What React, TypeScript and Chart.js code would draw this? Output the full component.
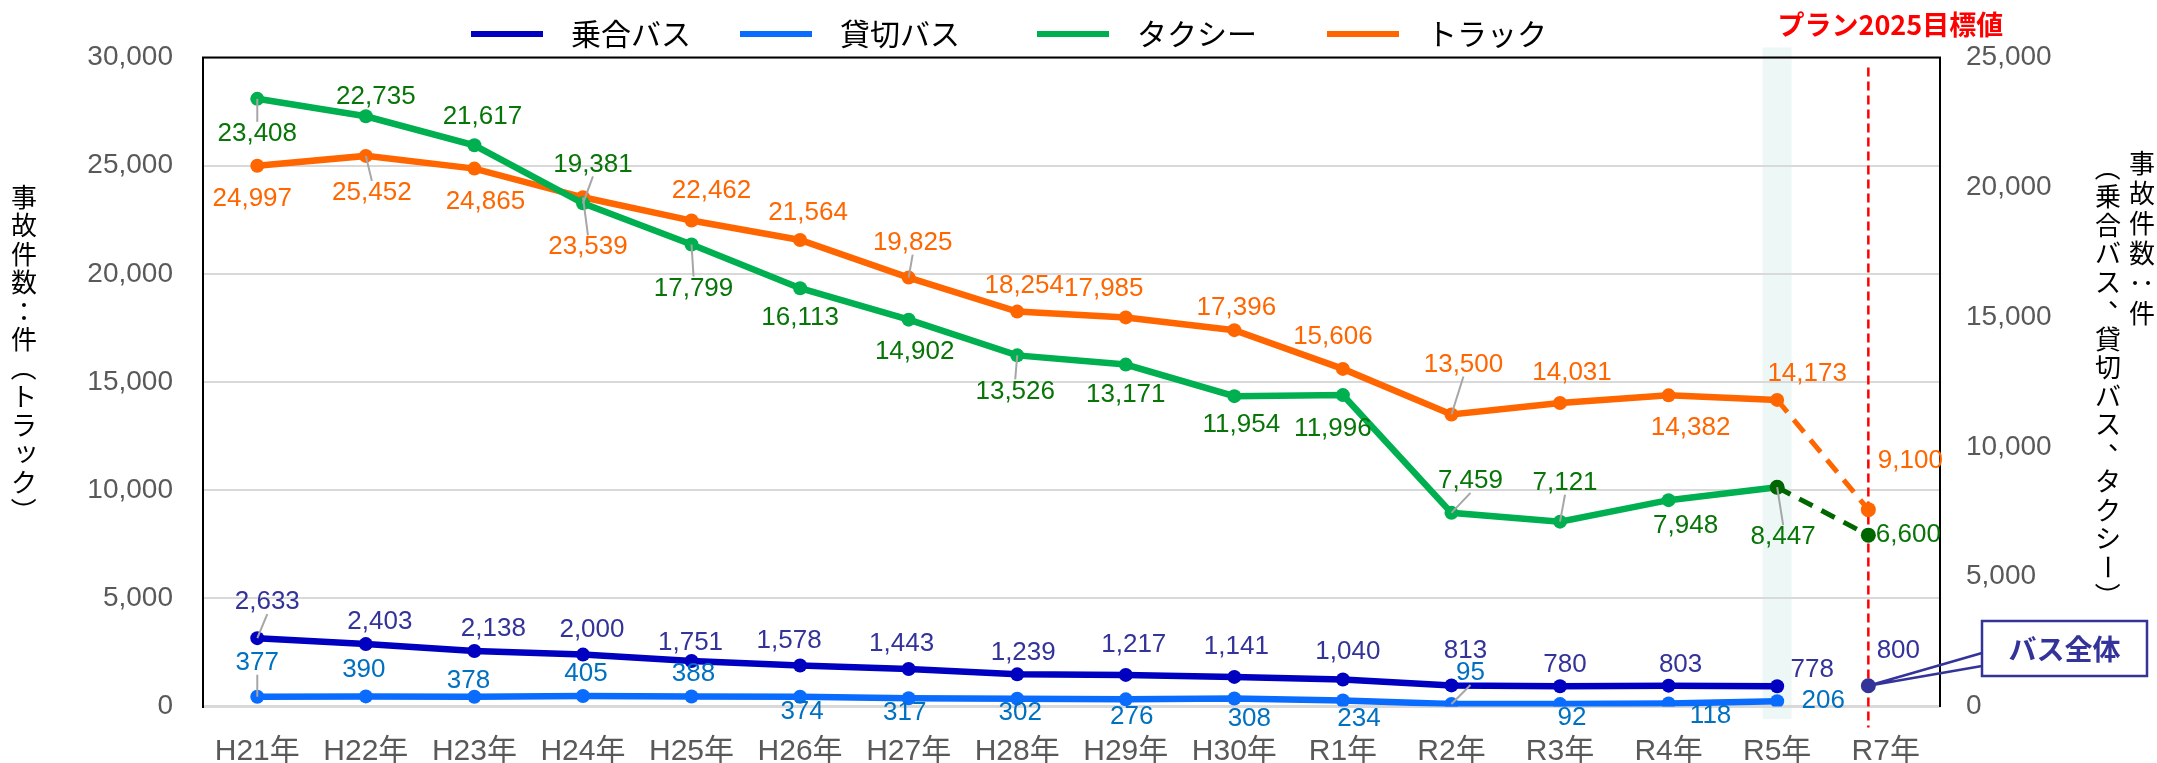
import React, { useEffect, useRef } from 'react';
import { Chart, registerables } from 'chart.js';

Chart.register(...registerables);

// ---------------- data ----------------
const categories = ['H21年', 'H22年', 'H23年', 'H24年', 'H25年', 'H26年', 'H27年', 'H28年', 'H29年', 'H30年', 'R1年', 'R2年', 'R3年', 'R4年', 'R5年', 'R7年'];
const seriesNames = ['乗合バス', '貸切バス', 'タクシー', 'トラック'];
const routeBus = [2633, 2403, 2138, 2000, 1751, 1578, 1443, 1239, 1217, 1141, 1040, 813, 780, 803, 778];
const charterBus = [377, 390, 378, 405, 388, 374, 317, 302, 276, 308, 234, 95, 92, 118, 206];
const taxi = [23408, 22735, 21617, 19381, 17799, 16113, 14902, 13526, 13171, 11954, 11996, 7459, 7121, 7948, 8447];
const truck = [24997, 25452, 24865, 23539, 22462, 21564, 19825, 18254, 17985, 17396, 15606, 13500, 14031, 14382, 14173];
const truckTarget = 9100;
const taxiTarget = 6600;
const busTarget = 800;
const targetPos = 14.84; // category-axis position of the plan-2025 target marks
const targetTitle = 'プラン2025目標値';
const busTargetName = 'バス全体';
const leftTicks = [0, 5000, 10000, 15000, 20000, 25000, 30000];
const rightTicks = [0, 5000, 10000, 15000, 20000, 25000];
const leftTitle = '事故件数：件（トラック）';
const rightTitleA = '事故件数：件';
const rightTitleB = '（乗合バス、貸切バス、タクシー）';

// ---------------- styles ----------------
const FONT_LATIN = "'Liberation Sans', Arial, 'Noto Sans CJK JP', sans-serif";
const FONT_JP = "'Noto Sans CJK JP', 'Noto Sans', sans-serif";
const C_ROUTE = '#0000C0';
const C_CHARTER = '#0A6CFF';
const C_TAXI = '#00B050';
const C_TRUCK = '#FF6600';
const C_TAXI_DARK = '#006600';
const C_BUS_TARGET = '#333399';

// label offsets [dx, dy, leader]
const routeOffsets = [[10, -36, 1], [14, -22, 0], [19, -22, 0], [9, -25, 0], [-1, -18, 0], [-11, -25, 0], [-7, -25, 0], [6, -22, 0], [8, -30, 0], [2, -30, 0], [5, -28, 0], [14, -35, 0], [5, -21, 0], [12, -21, 0], [35, -16, 0]];
const charterOffsets = [[0, -34, 1], [-2, -27, 0], [-6, -16, 0], [3, -22, 0], [2, -23, 0], [2, 15, 0], [-4, 15, 0], [3, 14, 0], [6, 17, 0], [15, 20, 0], [16, 18, 0], [19, -31, 1], [12, 14, 0], [42, 12, 0], [46, 0, 0]];
const taxiOffsets = [[0, 35, 1], [10, -19, 0], [8, -28, 0], [10, -39, 1], [2, 44, 1], [0, 30, 0], [6, 32, 0], [-2, 36, 1], [0, 30, 0], [7, 29, 0], [-10, 34, 0], [19, -32, 1], [5, -39, 1], [17, 26, 0], [6, 50, 1]];
const truckOffsets = [[-5, 33, 0], [6, 37, 1], [11, 33, 0], [5, 50, 1], [20, -30, 0], [8, -27, 0], [4, -35, 1], [7, -26, 0], [-22, -29, 0], [2, -22, 0], [-10, -32, 0], [12, -50, 1], [12, -30, 0], [22, 32, 0], [30, -26, 0]];

const fmt = (v: any) => Number(v).toLocaleString('en-US');
const pts = (arr: number[]) => arr.map((v, i) => ({ x: i, y: v }));

function drawVertical(ctx: CanvasRenderingContext2D, text: string, x: number, y0: number, pitch: number, size: number, rotateSet: string) {
  let y = y0;
  for (const ch of Array.from(text)) {
    ctx.save();
    ctx.translate(x, y);
    if (ch === '、') ctx.translate(size * 0.5, -size * 0.5);
    if (ch === 'ッ') ctx.translate(size * 0.08, -size * 0.1);
    if (rotateSet.includes(ch)) ctx.rotate(Math.PI / 2);
    ctx.fillText(ch, 0, 0);
    ctx.restore();
    y += pitch;
  }
}

const decorPlugin = {
  id: 'decor',
  beforeDraw(chart: any) {
    const { ctx, chartArea } = chart;
    const xs = chart.scales.x;
    const xc = xs.getPixelForValue(truck.length - 1);
    ctx.save();
    ctx.fillStyle = '#EDF7F5';
    ctx.fillRect(xc - 14.5, chartArea.top - 10, 29, chartArea.bottom - chartArea.top + 22.5);
    ctx.restore();
  },
  beforeDatasetsDraw(chart: any) {
    const { ctx, chartArea } = chart;
    const xs = chart.scales.x;
    ctx.save();
    ctx.strokeStyle = '#000';
    ctx.lineWidth = 2;
    ctx.beginPath();
    ctx.moveTo(chartArea.left - 1, chartArea.top);
    ctx.lineTo(chartArea.right + 1, chartArea.top);
    ctx.stroke();
    const rx = xs.getPixelForValue(targetPos);
    ctx.strokeStyle = '#FF0000';
    ctx.lineWidth = 2.5;
    ctx.setLineDash([9, 5]);
    ctx.beginPath();
    ctx.moveTo(rx, chartArea.top + 10);
    ctx.lineTo(rx, chartArea.bottom + 21);
    ctx.stroke();
    ctx.restore();
  },
  afterDatasetsDraw(chart: any) {
    const { ctx } = chart;
    ctx.save();
    ctx.font = `26px ${FONT_LATIN}`;
    ctx.textAlign = 'center';
    ctx.textBaseline = 'middle';
    chart.data.datasets.forEach((ds: any, di: number) => {
      const offs = ds.labelOffsets;
      if (!offs) return;
      const meta = chart.getDatasetMeta(di);
      meta.data.forEach((el: any, i: number) => {
        const o = offs[i];
        if (!o) return;
        const lx = el.x + o[0];
        const ly = el.y + o[1];
        if (o[2]) {
          ctx.strokeStyle = '#A6A6A6';
          ctx.lineWidth = 2;
          ctx.beginPath();
          ctx.moveTo(el.x, el.y);
          ctx.lineTo(lx, ly + (o[1] > 0 ? -12 : 12));
          ctx.stroke();
        }
        ctx.fillStyle = ds.labelColor;
        ctx.fillText(fmt(ds.data[i].y), lx, ly);
      });
    });
    ctx.restore();
  },
  afterDraw(chart: any) {
    const { ctx, chartArea } = chart;
    const xs = chart.scales.x;
    ctx.save();
    // legend
    const legendStarts = [471, 740, 1037, 1327];
    const legendSets = [3, 4, 5, 6];
    ctx.textBaseline = 'middle';
    ctx.textAlign = 'left';
    ctx.font = `30px ${FONT_JP}`;
    legendSets.forEach((di, k) => {
      const ds = chart.data.datasets[di];
      const x0 = legendStarts[k];
      ctx.strokeStyle = ds.borderColor;
      ctx.lineWidth = 6;
      ctx.beginPath();
      ctx.moveTo(x0, 34);
      ctx.lineTo(x0 + 72, 34);
      ctx.stroke();
      ctx.fillStyle = '#000';
      ctx.fillText(ds.label, x0 + 100, 34);
    });

    // axis titles (vertical writing)
    ctx.textAlign = 'center';
    ctx.fillStyle = '#000';
    ctx.font = `26px ${FONT_JP}`;
    drawVertical(ctx, leftTitle, 24, 197, 28.5, 26, '（）ー');
    drawVertical(ctx, rightTitleA, 2142, 163, 30, 26, '（）ー：');
    drawVertical(ctx, rightTitleB, 2108, 168, 28.5, 26, '（）ー：');

    // target heading
    const rx = xs.getPixelForValue(targetPos);
    ctx.fillStyle = '#FF0000';
    ctx.font = `bold 27px ${FONT_JP}`;
    ctx.fillText(targetTitle, rx + 22, 25);

    // callout for bus target
    const meta = chart.getDatasetMeta(0);
    const p = meta.data[0];
    const bx = chartArea.right + 42;
    const by = 621;
    const bw = 165;
    const bh = 55;
    ctx.strokeStyle = C_BUS_TARGET;
    ctx.lineWidth = 2.5;
    ctx.beginPath();
    ctx.moveTo(bx, 653);
    ctx.lineTo(p.x, p.y);
    ctx.lineTo(bx, 666);
    ctx.stroke();
    ctx.fillStyle = '#fff';
    ctx.fillRect(bx, by, bw, bh);
    ctx.strokeRect(bx, by, bw, bh);
    ctx.fillStyle = C_BUS_TARGET;
    ctx.font = `bold 28px ${FONT_JP}`;
    ctx.fillText(busTargetName, bx + bw / 2, by + bh / 2 + 1);
    ctx.restore();
  },
};

export default function App() {
  const ref = useRef<HTMLCanvasElement>(null);
  useEffect(() => {
    document.body.style.margin = '0';
    const last = truck.length - 1;
    const chart = new Chart(ref.current as HTMLCanvasElement, {
      type: 'line',
      data: {
        datasets: [
          {
            label: busTargetName, data: [{ x: targetPos, y: busTarget }], yAxisID: 'y2', showLine: false,
            borderColor: C_BUS_TARGET, backgroundColor: C_BUS_TARGET, pointRadius: 7.5, pointBorderWidth: 0,
            labelOffsets: [[30, -35, 0]], labelColor: C_BUS_TARGET,
          } as any,
          {
            label: 'タクシー目標', data: [{ x: last, y: taxi[last] }, { x: targetPos, y: taxiTarget }], yAxisID: 'y2',
            borderColor: C_TAXI_DARK, backgroundColor: C_TAXI_DARK, borderWidth: 5, borderDash: [15, 10], pointRadius: 7.5, pointBorderWidth: 0,
            labelOffsets: [null, [40, 0, 0]], labelColor: '#087508',
          } as any,
          {
            label: 'トラック目標', data: [{ x: last, y: truck[last] }, { x: targetPos, y: truckTarget }], yAxisID: 'y',
            borderColor: C_TRUCK, backgroundColor: C_TRUCK, borderWidth: 5, borderDash: [16, 10], pointRadius: [0, 7.5], pointBorderWidth: 0,
            labelOffsets: [null, [42, -49, 0]], labelColor: C_TRUCK,
          } as any,
          {
            label: seriesNames[0], data: pts(routeBus), yAxisID: 'y2', borderColor: C_ROUTE, backgroundColor: C_ROUTE,
            borderWidth: 6.5, pointRadius: 7, pointBorderWidth: 0, labelOffsets: routeOffsets, labelColor: '#333399',
          } as any,
          {
            label: seriesNames[1], data: pts(charterBus), yAxisID: 'y2', borderColor: C_CHARTER, backgroundColor: C_CHARTER,
            borderWidth: 6.5, pointRadius: 7, pointBorderWidth: 0, labelOffsets: charterOffsets, labelColor: '#0070C0',
          } as any,
          {
            label: seriesNames[2], data: pts(taxi), yAxisID: 'y2', borderColor: C_TAXI, backgroundColor: C_TAXI,
            borderWidth: 6.5, pointRadius: 7, pointBorderWidth: 0, labelOffsets: taxiOffsets, labelColor: '#087508',
          } as any,
          {
            label: seriesNames[3], data: pts(truck), yAxisID: 'y', borderColor: C_TRUCK, backgroundColor: C_TRUCK,
            borderWidth: 6.5, pointRadius: 7, pointBorderWidth: 0, labelOffsets: truckOffsets, labelColor: C_TRUCK,
          } as any,
        ],
      },
      options: {
        responsive: false,
        animation: false,
        devicePixelRatio: 1,
        layout: { padding: { top: 57.5, left: 0, right: 0, bottom: 0 } },
        plugins: { legend: { display: false }, tooltip: { enabled: false } },
        elements: { line: { tension: 0 } },
        scales: {
          x: {
            type: 'linear', min: -0.5, max: categories.length - 0.5,
            afterBuildTicks: (s: any) => { s.ticks = categories.map((_, i) => ({ value: i })); },
            ticks: {
              callback: (v: any) => categories[v] ?? '', autoSkip: false, maxRotation: 0, minRotation: 0,
              font: { family: FONT_LATIN, size: 30 }, color: '#595959', padding: 27,
            },
            grid: { display: false, drawTicks: false },
            border: { display: true, color: '#D9D9D9', width: 2.5 },
            afterFit: (s: any) => { s.height = 56.5; },
          },
          y: {
            position: 'left', min: 0, max: 30000,
            afterBuildTicks: (s: any) => { s.ticks = leftTicks.map((v) => ({ value: v })); },
            ticks: { callback: (v: any) => fmt(v), font: { family: FONT_LATIN, size: 28 }, color: '#595959', padding: 30 },
            grid: { color: '#D9D9D9', lineWidth: 2, drawTicks: false },
            border: { color: '#000', width: 2 },
            afterFit: (s: any) => { s.width = 203; },
          },
          y2: {
            position: 'right', min: 0, max: 25000,
            afterBuildTicks: (s: any) => { s.ticks = rightTicks.map((v) => ({ value: v })); },
            ticks: { callback: (v: any) => fmt(v), font: { family: FONT_LATIN, size: 28 }, color: '#595959', padding: 26 },
            grid: { display: false, drawTicks: false },
            border: { color: '#000', width: 2 },
            afterFit: (s: any) => { s.width = 217; },
          },
        },
      } as any,
      plugins: [decorPlugin],
    });
    return () => chart.destroy();
  }, []);
  return (
    <div style={{ width: 2157, height: 763 }}>
      <canvas ref={ref} width={2157} height={763} style={{ display: 'block' }} />
    </div>
  );
}
